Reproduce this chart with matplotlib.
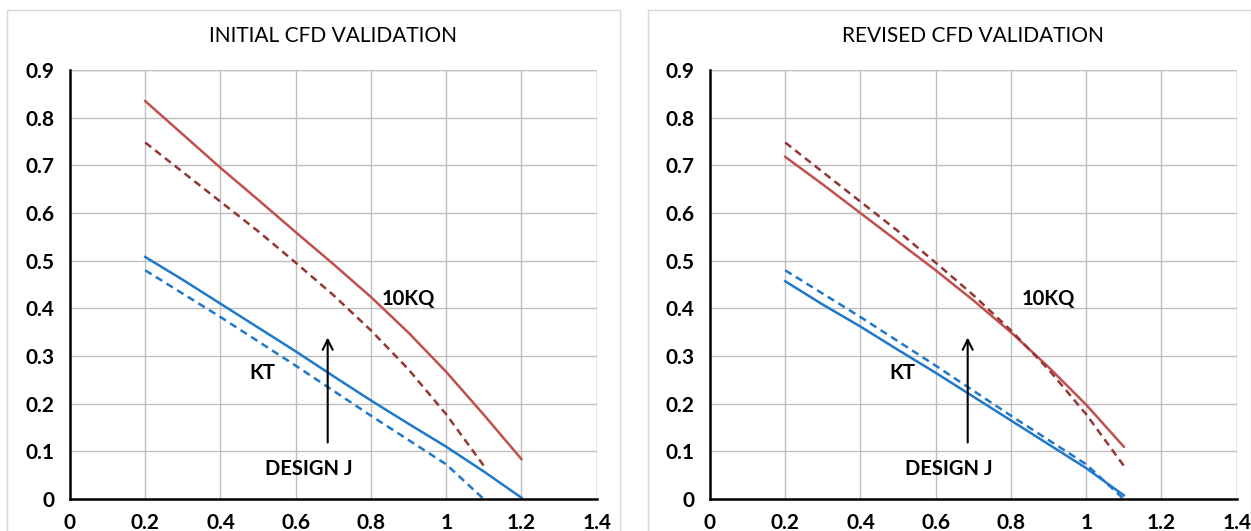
import matplotlib
matplotlib.use('Agg')
import matplotlib.pyplot as plt
from matplotlib.patches import Rectangle

# advance ratio J
j_init = [0.2, 0.3, 0.4, 0.5, 0.6, 0.7, 0.8, 0.9, 1.0, 1.1, 1.2]
j_exp_kq = [0.2, 0.3, 0.4, 0.5, 0.6, 0.7, 0.8, 0.9, 1.0, 1.1]
j_exp_kt = [0.2, 0.4, 0.6, 0.8, 1.0, 1.1]
j_rev = [0.2, 0.3, 0.4, 0.5, 0.6, 0.7, 0.8, 0.9, 1.0, 1.1]

# INITIAL CFD
kt_init = [0.508, 0.46, 0.41, 0.36, 0.31, 0.258, 0.207, 0.158, 0.11, 0.058, 0.003]
kq_init = [0.835, 0.765, 0.695, 0.628, 0.56, 0.493, 0.424, 0.349, 0.267, 0.177, 0.084]

# experiment (dashed), same on both charts
kt_exp = [0.48, 0.382, 0.28, 0.175, 0.073, 0.0]
kq_exp = [0.748, 0.686, 0.624, 0.562, 0.496, 0.428, 0.354, 0.272, 0.178, 0.07]

# REVISED CFD
kt_rev = [0.457, 0.408, 0.362, 0.313, 0.265, 0.215, 0.165, 0.115, 0.065, 0.008]
kq_rev = [0.718, 0.66, 0.6, 0.54, 0.48, 0.417, 0.35, 0.277, 0.198, 0.11]

titles = ['INITIAL CFD VALIDATION', 'REVISED CFD VALIDATION']
xticks = [0, 0.2, 0.4, 0.6, 0.8, 1.0, 1.2, 1.4]
xlabels = ['0', '0.2', '0.4', '0.6', '0.8', '1', '1.2', '1.4']
yticks = [0, 0.1, 0.2, 0.3, 0.4, 0.5, 0.6, 0.7, 0.8, 0.9]
ylabels = ['0', '0.1', '0.2', '0.3', '0.4', '0.5', '0.6', '0.7', '0.8', '0.9']

BLUE = '#1F78C8'
RED = '#C0504D'
DARKRED = '#943634'
FONT = 'Lato'

fig = plt.figure(figsize=(12.51, 5.31), dpi=100)

# chart area borders
fig.patches.append(Rectangle((7/1251, -0.01), 613/1251, 1 - 10/531 + 0.01,
                             transform=fig.transFigure, fill=False,
                             edgecolor='#D9D9D9', linewidth=1))
fig.patches.append(Rectangle((648/1251, -0.01), 603/1251, 1 - 10/531 + 0.01,
                             transform=fig.transFigure, fill=False,
                             edgecolor='#D9D9D9', linewidth=1))

panels = [
    (70/1251, kt_init, j_init, kq_init, j_init),
    (710/1251, kt_rev, j_rev, kq_rev, j_rev),
]

for i, (left, kt, jkt, kq, jkq) in enumerate(panels):
    ax = fig.add_axes([left, 0.060, 0.421, 0.808])
    ax.set_xlim(0, 1.4)
    ax.set_ylim(0, 0.9)

    ax.plot(jkq, kq, color=RED, lw=1.8)
    ax.plot(j_exp_kq, kq_exp, color=DARKRED, lw=1.8, ls=(0, (3, 2)))
    ax.plot(jkt, kt, color=BLUE, lw=1.8)
    ax.plot(j_exp_kt, kt_exp, color=BLUE, lw=1.8, ls=(0, (3, 2)))

    ax.set_xticks(xticks)
    ax.set_xticklabels(xlabels)
    ax.set_yticks(yticks)
    ax.set_yticklabels(ylabels)
    for lab in ax.get_xticklabels() + ax.get_yticklabels():
        lab.set_fontweight('bold')
        lab.set_fontsize(15)
        lab.set_family(FONT)
    ax.tick_params(length=0)
    ax.tick_params(axis='x', pad=10)
    ax.tick_params(axis='y', pad=11)
    ax.grid(True, color='#BFBFBF', lw=1)
    ax.set_axisbelow(True)
    for s in ['top', 'right']:
        ax.spines[s].set_visible(False)
    for s in ['left', 'bottom']:
        ax.spines[s].set_linewidth(1.8)
        ax.spines[s].set_color('black')
        ax.spines[s].set_zorder(5)
    # grid lines at right and top edges
    ax.axvline(1.4, color='#BFBFBF', lw=1, zorder=0)
    ax.axhline(0.9, color='#BFBFBF', lw=1, zorder=0)

    ax.set_title(titles[i], fontsize=15, family=FONT, pad=20)

    ax.text(0.9, 0.42, '10KQ', fontsize=14.5, fontweight='bold', family=FONT,
            ha='center', va='center')
    ax.text(0.51, 0.264, 'KT', fontsize=14.5, fontweight='bold', family=FONT,
            ha='center', va='center')
    ax.text(0.635, 0.063, 'DESIGN J', fontsize=14.5, fontweight='bold', family=FONT,
            ha='center', va='center')
    ax.annotate('', xy=(0.685, 0.345), xytext=(0.685, 0.113),
                arrowprops=dict(arrowstyle='->', lw=1.5, color='black',
                                mutation_scale=18))

fig.savefig('out.png', dpi=100, facecolor='white')
